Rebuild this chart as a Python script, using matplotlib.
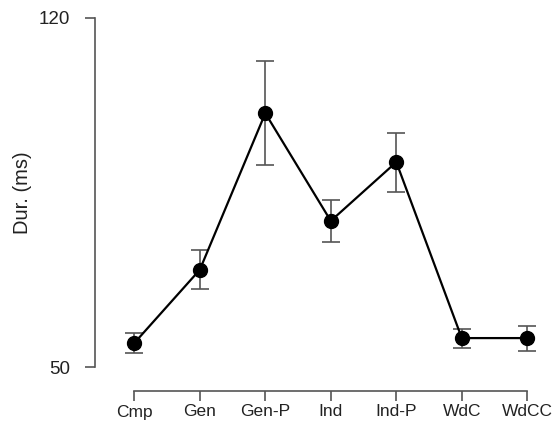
import matplotlib
matplotlib.use('Agg')
import matplotlib.pyplot as plt

# datos
categorias = ['Cmp', 'Gen', 'Gen-P', 'Ind', 'Ind-P', 'WdC', 'WdCC']
duracion = [54.8, 69.5, 100.9, 79.3, 91.1, 55.8, 55.8]
error = [2.0, 3.9, 10.4, 4.2, 5.9, 1.9, 2.5]

plt.rcParams['font.family'] = ['Liberation Sans', 'DejaVu Sans']

fig = plt.figure(figsize=(5.58, 4.21), dpi=100)
ax = fig.add_axes([95 / 558, 54 / 421, 458.5 / 558, 349 / 421])

x = list(range(len(categorias)))
ax.errorbar(x, duracion, yerr=error, fmt='none', ecolor='#555555',
            elinewidth=1.2, capsize=6.5, capthick=1.2, zorder=2)
ax.plot(x, duracion, color='black', linewidth=1.6, marker='o',
        markersize=10, zorder=3)

ax.set_xlim(-0.6, 6.4)
ax.set_ylim(50, 120)
ax.set_yticks([50, 120])
ax.set_xticks(x)
ax.set_xticklabels(categorias)

for s in ['top', 'right']:
    ax.spines[s].set_visible(False)
ax.spines['bottom'].set_position(('outward', 17))
ax.spines['bottom'].set_bounds(0, 6)
ax.spines['left'].set_bounds(50, 120)
for s in ['left', 'bottom']:
    ax.spines[s].set_color('#555555')
    ax.spines[s].set_linewidth(1.2)

ax.tick_params(axis='both', colors='#555555', width=1.2,
               labelcolor='#222222')
ax.tick_params(axis='x', labelsize=12.5, length=7, pad=3)
ax.tick_params(axis='y', labelsize=13.5, length=7, pad=11)

ax.set_ylabel('Dur. (ms)', fontsize=14.5, color='#222222')
ax.yaxis.set_label_coords(-63 / 458.5, 0.5)

fig.savefig('out.png', dpi=100)
